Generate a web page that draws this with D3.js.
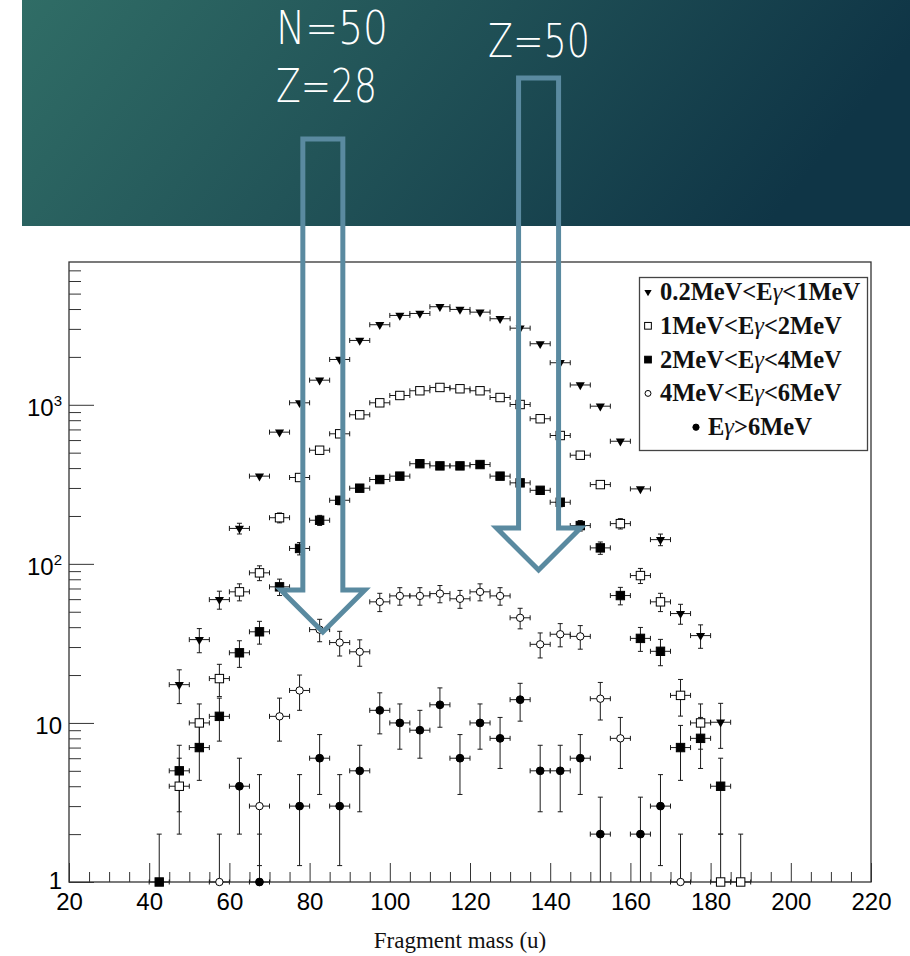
<!DOCTYPE html>
<html>
<head>
<meta charset="utf-8">
<script src="https://cdn.jsdelivr.net/npm/d3@7"></script>
<style>
  body { margin: 0; background: #fff; }
  svg { display: block; }
</style>
</head>
<body>
<div class="canvas"></div>
<script>
// bin centres (u), 5 u wide bins
const masses = [42.5, 47.5, 52.5, 57.5, 62.5, 67.5, 72.5, 77.5, 82.5, 87.5,
  92.5, 97.5, 102.5, 107.5, 112.5, 117.5, 122.5, 127.5, 132.5, 137.5,
  142.5, 147.5, 152.5, 157.5, 162.5, 167.5, 172.5, 177.5, 182.5, 187.5];

// counts per gamma energy window (null = no point)
const e02to1 = [null, 17.4, 33.4, 59.6, 167, 356, 673, 1029, 1428, 1927,
  2538, 3186, 3645, 3750, 4135, 3976, 3823, 3474, 3032, 2419,
  1838, 1332, 980, 590, 296, 142, 48.7, 35.4, 10.1, null];
const e1to2 = [null, 4, 10, 19, 66.7, 87.8, 195, 349, 518, 657,
  865, 1029, 1144, 1225, 1285, 1261, 1225, 1111, 1004, 817,
  641, 482, 315, 179, 84.4, 57.7, 14.9, 10, 1, 1];
const e2to4 = [1, 5, 7, 11, 27.6, 37.4, 71.7, 125, 188, 251,
  299, 339, 356, 426, 413, 413, 421, 356, 323, 290,
  244, 174, 126, 63.2, 34, 28.2, 7, 8, 4, null];
const e4to6 = [null, null, null, 1, null, 3, 11, 16, 38.6, 32,
  28, 57.7, 62.9, 62.9, 65, 60.3, 66.7, 62.9, 45.8, 31.2,
  36.1, 35, 14.2, 8, null, null, 1, null, null, null];
const eAbove6 = [null, null, null, null, 4, 1, null, 3, 6, 3,
  5, 12, 10, 9, 13, 6, 10, 8, 14, 5,
  5, 6, 2, null, 2, 3, null, null, null, null];

const legendLabels = ["0.2MeV<Eγ<1MeV", "1MeV<Eγ<2MeV", "2MeV<Eγ<4MeV", "4MeV<Eγ<6MeV", "Eγ>6MeV"];
const xTicks = [20, 40, 60, 80, 100, 120, 140, 160, 180, 200, 220];
const yTicks = [1, 10, 100, 1000];
const yTickLabels = [["1", ""], ["10", ""], ["10", "2"], ["10", "3"]];
const shellLabels = [["N=50", "Z=28"], ["Z=50"]];
const xTitle = "Fragment mass (u)";

const series = [
  { values: e02to1, marker: "triDown" },
  { values: e1to2, marker: "squareOpen" },
  { values: e2to4, marker: "squareFill" },
  { values: e4to6, marker: "circleOpen" },
  { values: eAbove6, marker: "circleFill" }
];

const svg = d3.select('.canvas')
  .append('svg')
  .attr('width', 910)
  .attr('height', 956);

// header banner
const defs = svg.append('defs');
const grad = defs.append('linearGradient')
  .attr('id', 'banner')
  .attr('x1', '0%').attr('y1', '0%')
  .attr('x2', '100%').attr('y2', '20%');
grad.append('stop').attr('offset', '0%').attr('stop-color', '#306d66');
grad.append('stop').attr('offset', '45%').attr('stop-color', '#225458');
grad.append('stop').attr('offset', '100%').attr('stop-color', '#0f3546');

svg.append('rect')
  .attr('x', 22)
  .attr('y', 0)
  .attr('width', 888)
  .attr('height', 226)
  .attr('fill', 'url(#banner)');

const x = d3.scaleLinear().domain([20, 220]).range([69, 871]);
const y = d3.scaleLog().domain([1, 7900]).range([882, 262]);

const plot = svg.append('g');

// axes, ticks pointing into the frame
const minorX = d3.range(20, 221, 5).filter(d => d % 20 !== 0);
plot.append('g')
  .attr('transform', 'translate(0,882)')
  .call(d3.axisBottom(x).tickValues(minorX).tickSize(-10).tickFormat(''))
  .call(g => g.select('.domain').remove());
plot.append('g')
  .attr('transform', 'translate(0,882)')
  .call(d3.axisBottom(x).tickValues(xTicks).tickSize(-19).tickPadding(11).tickFormat(d3.format('d')))
  .call(g => g.select('.domain').remove())
  .call(g => g.selectAll('text')
    .attr('font-family', '"Liberation Sans", Arial, sans-serif')
    .attr('font-size', 24)
    .attr('fill', '#000'));

const minorY = [];
[1, 10, 100, 1000].forEach(p => {
  for (let k = 2; k <= 9; k++) if (p * k < 7900) minorY.push(p * k);
});
plot.append('g')
  .attr('transform', 'translate(69,0)')
  .call(d3.axisLeft(y).tickValues(minorY).tickSize(-12).tickFormat(''))
  .call(g => g.select('.domain').remove());
plot.append('g')
  .attr('transform', 'translate(69,0)')
  .call(d3.axisLeft(y).tickValues(yTicks).tickSize(-25).tickFormat(''))
  .call(g => g.select('.domain').remove());

plot.selectAll('.tick line').attr('stroke', '#333');

const yLab = plot.append('g')
  .attr('font-family', '"Liberation Sans", Arial, sans-serif')
  .attr('fill', '#000')
  .attr('text-anchor', 'end');
yTicks.forEach((t, i) => {
  const txt = yLab.append('text')
    .attr('x', 62)
    .attr('y', y(t) + (t === 1 ? 7 : 11))
    .attr('font-size', 24);
  txt.append('tspan').text(yTickLabels[i][0]);
  if (yTickLabels[i][1]) {
    txt.append('tspan')
      .attr('font-size', 15)
      .attr('dy', -10)
      .text(yTickLabels[i][1]);
  }
});

// frame
plot.append('rect')
  .attr('x', 69)
  .attr('y', 262)
  .attr('width', 802)
  .attr('height', 620)
  .attr('fill', 'none')
  .attr('stroke', '#333')
  .attr('stroke-width', 1.3);

plot.append('text')
  .attr('x', 460)
  .attr('y', 948)
  .attr('text-anchor', 'middle')
  .attr('font-family', '"Liberation Serif", "Times New Roman", serif')
  .attr('font-size', 23)
  .attr('fill', '#111')
  .text(xTitle);

// markers
function marker(g, type, cx, cy, s) {
  s = s || 1;
  if (type === 'triDown') {
    g.append('path')
      .attr('d', d3.symbol(d3.symbolTriangle, 36 * s * s)())
      .attr('transform', `translate(${cx},${cy}) rotate(180)`)
      .attr('fill', '#000');
  } else if (type === 'squareOpen' || type === 'squareFill') {
    const h = 4.2 * s;
    g.append('rect')
      .attr('x', cx - h).attr('y', cy - h)
      .attr('width', 2 * h).attr('height', 2 * h)
      .attr('fill', type === 'squareFill' ? '#000' : '#fff')
      .attr('stroke', '#000')
      .attr('stroke-width', 1);
  } else {
    g.append('circle')
      .attr('cx', cx).attr('cy', cy)
      .attr('r', (type === 'circleFill' ? 3.9 : 3.7) * s)
      .attr('fill', type === 'circleFill' ? '#000' : '#fff')
      .attr('stroke', '#000')
      .attr('stroke-width', 1);
  }
}

const dataG = plot.append('g');
const errG = dataG.append('g').attr('stroke', '#1a1a1a').attr('stroke-width', 1);
const markG = dataG.append('g');
const cap = 2.5;

series.forEach(s => {
  s.values.forEach((v, i) => {
    if (v == null) return;
    const m = masses[i];
    const cx = x(m), cy = y(v);
    const err = Math.sqrt(v);
    // x error: bin width
    const xl = x(m - 2.5), xr = x(m + 2.5);
    errG.append('line').attr('x1', xl).attr('x2', xr).attr('y1', cy).attr('y2', cy);
    errG.append('line').attr('x1', xl).attr('x2', xl).attr('y1', cy - cap).attr('y2', cy + cap);
    errG.append('line').attr('x1', xr).attr('x2', xr).attr('y1', cy - cap).attr('y2', cy + cap);
    // y error (poisson)
    const yTop = y(v + err);
    const lowClipped = (v - err) <= 1;
    const yBot = lowClipped ? 882 : y(v - err);
    if (cy - yTop > 4.5) {
      errG.append('line').attr('x1', cx).attr('x2', cx).attr('y1', yTop).attr('y2', cy);
      errG.append('line').attr('x1', cx - cap).attr('x2', cx + cap).attr('y1', yTop).attr('y2', yTop);
    }
    if (yBot - cy > 4.5) {
      errG.append('line').attr('x1', cx).attr('x2', cx).attr('y1', cy).attr('y2', yBot);
      if (!lowClipped) {
        errG.append('line').attr('x1', cx - cap).attr('x2', cx + cap).attr('y1', yBot).attr('y2', yBot);
      }
    }
    marker(markG, s.marker, cx, cy);
  });
});

// legend
const leg = svg.append('g');
leg.append('rect')
  .attr('x', 639.5)
  .attr('y', 277.5)
  .attr('width', 228)
  .attr('height', 173)
  .attr('fill', '#fff')
  .attr('stroke', '#444')
  .attr('stroke-width', 1.3);

legendLabels.forEach((lab, i) => {
  const cy = 292 + i * 33.8;
  const last = i === legendLabels.length - 1;
  const mx = last ? 696 : 648;
  marker(leg, series[i].marker, mx, cy, 0.8);
  const parts = lab.split('γ');
  const t = leg.append('text')
    .attr('x', last ? 708 : 660)
    .attr('y', cy + 8)
    .attr('font-family', '"Liberation Serif", "Times New Roman", serif')
    .attr('font-weight', 'bold')
    .attr('font-size', 24.5)
    .attr('fill', '#111');
  t.append('tspan').text(parts[0]);
  t.append('tspan').attr('font-style', 'italic').attr('font-weight', 'normal').text('γ');
  t.append('tspan').text(parts[1]);
});

// shell-closure arrows
function arrow(cm, top, shaftBot, tip) {
  const c = x(cm);
  const hw = 20, ww = 42;
  const d = `M${c - hw},${top} L${c + hw},${top} L${c + hw},${shaftBot} L${c + ww},${shaftBot}
    L${c},${tip} L${c - ww},${shaftBot} L${c - hw},${shaftBot} Z`;
  svg.append('path')
    .attr('d', d)
    .attr('fill', 'none')
    .attr('stroke', '#5a8aa0')
    .attr('stroke-width', 5)
    .attr('stroke-linejoin', 'miter');
}
arrow(83.3, 139, 590, 632);
arrow(137.1, 78, 528, 570);

const hdrText = svg.append('g')
  .attr('font-family', '"DejaVu Sans", sans-serif')
  .attr('font-weight', 200)
  .attr('font-size', 46)
  .attr('fill', '#fff');
hdrText.append('text').attr('x', 276).attr('y', 44)
  .attr('textLength', 112).attr('lengthAdjust', 'spacingAndGlyphs').text(shellLabels[0][0]);
hdrText.append('text').attr('x', 276).attr('y', 102)
  .attr('textLength', 101).attr('lengthAdjust', 'spacingAndGlyphs').text(shellLabels[0][1]);
hdrText.append('text').attr('x', 488).attr('y', 57)
  .attr('textLength', 102).attr('lengthAdjust', 'spacingAndGlyphs').text(shellLabels[1][0]);
</script>
</body>
</html>
